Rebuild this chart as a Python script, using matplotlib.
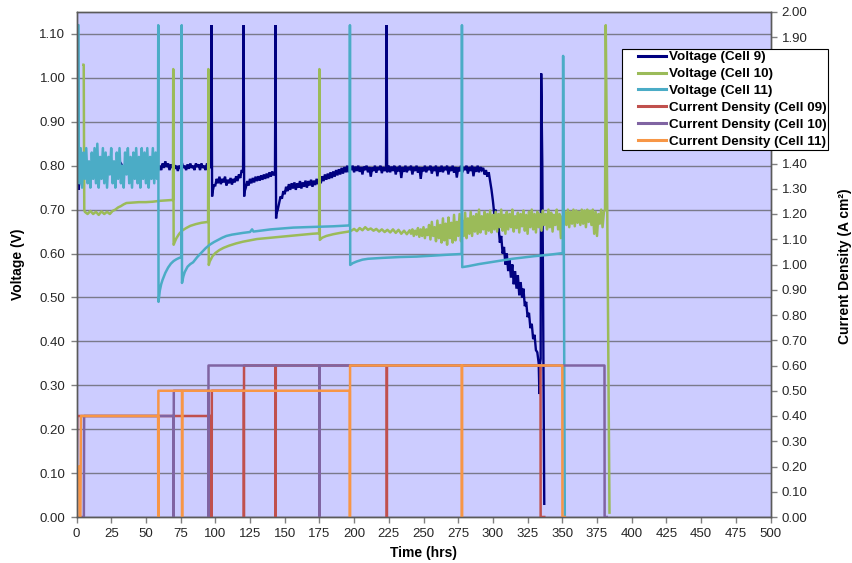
import matplotlib
matplotlib.use("Agg")
import matplotlib.pyplot as plt
from matplotlib.lines import Line2D
from matplotlib.legend_handler import HandlerLine2D

plt.rcParams["font.family"] = ["Liberation Sans", "DejaVu Sans"]


def stamps(t0, dt, n):
    """Sample times for an evenly logged stretch of readings."""
    return [t0 + dt * i for i in range(n)]


# ---------------- Cell 9 voltage (V) ----------------
c9_start_t = [0, 1.0, 1.3, 2, 3]
c9_start_v = [1.12, 1.12, 0.745, 0.76, 0.79]
c9_b = [0.80, 0.79, 0.805, 0.795, 0.80, 0.79, 0.805, 0.795, 0.80, 0.79,
        0.805, 0.795, 0.80, 0.79, 0.805, 0.795, 0.80, 0.79, 0.805, 0.795,
        0.80, 0.79, 0.805, 0.795, 0.80, 0.79, 0.805, 0.795]            # t = 4..58 (2 h)
c9_c = [0.79, 0.80, 0.79, 0.805, 0.795, 0.81, 0.797, 0.805, 0.79, 0.803,
        0.795, 0.805, 0.793, 0.80, 0.788, 0.80, 0.795, 0.806, 0.795, 0.80,
        0.79, 0.803, 0.793, 0.805, 0.795, 0.80, 0.79, 0.805, 0.797, 0.803,
        0.79, 0.805, 0.795, 0.80, 0.79, 0.805, 0.795, 0.80, 0.795]    # t = 59..97
c9_d_t = [97.3, 97.7, 98, 99]
c9_d_v = [1.12, 0.73, 0.74, 0.755]
c9_e = [0.755, 0.77, 0.76, 0.775, 0.758, 0.77, 0.762, 0.775, 0.755, 0.768,
        0.76, 0.772, 0.757, 0.77, 0.762, 0.776, 0.765, 0.78, 0.772, 0.79,
        0.785]                                                          # t = 100..120
c9_f_t = [120.4, 120.8]
c9_f_v = [1.12, 0.73]
c9_g = [0.74, 0.75, 0.765, 0.755, 0.77, 0.76, 0.772, 0.762, 0.775, 0.765,
        0.776, 0.766, 0.778, 0.768, 0.78, 0.77, 0.782, 0.772, 0.785, 0.775,
        0.787, 0.778, 0.785]                                            # t = 121..143
c9_h_t = [143.4, 143.8]
c9_h_v = [1.12, 0.68]
c9_i = [0.69, 0.70, 0.715, 0.73, 0.725, 0.742, 0.735, 0.752, 0.742, 0.758,
        0.745, 0.76, 0.748, 0.762, 0.745, 0.76, 0.75, 0.765, 0.748, 0.762,
        0.752, 0.766, 0.75, 0.765, 0.755, 0.768, 0.752, 0.766, 0.756, 0.77,
        0.758, 0.772, 0.76, 0.776, 0.765, 0.78, 0.768, 0.782, 0.77, 0.785,
        0.772, 0.787, 0.775, 0.79, 0.778, 0.792, 0.78, 0.795, 0.782, 0.797,
        0.785, 0.80, 0.785, 0.80]                                       # t = 144..197
c9_j = [0.79, 0.80, 0.785, 0.798, 0.788, 0.80, 0.786, 0.797, 0.78, 0.798,
        0.79, 0.80, 0.785, 0.797, 0.775, 0.796, 0.788, 0.80, 0.784, 0.797,
        0.79, 0.80, 0.783, 0.797, 0.788, 0.795]                         # t = 198..223
c9_k_t = [223.4, 223.8]
c9_k_v = [1.12, 0.785]
c9_l = [0.79, 0.80, 0.785, 0.798, 0.788, 0.80, 0.78, 0.797, 0.787, 0.80,
        0.772, 0.797, 0.786, 0.80, 0.785, 0.797, 0.79, 0.80, 0.78, 0.797,
        0.788, 0.80, 0.784, 0.797, 0.77, 0.796, 0.787, 0.80, 0.785, 0.797,
        0.79, 0.80, 0.782, 0.797, 0.788, 0.80, 0.776, 0.797, 0.786, 0.80,
        0.785, 0.797, 0.79, 0.80, 0.78, 0.797, 0.788, 0.80, 0.784, 0.797,
        0.773, 0.796, 0.787, 0.80, 0.785, 0.797, 0.79, 0.80, 0.782, 0.797,
        0.788, 0.80, 0.776, 0.797, 0.786, 0.80, 0.785, 0.797, 0.79, 0.795,
        0.78, 0.79, 0.775, 0.785, 0.765]                                # t = 224..298
c9_m = [0.745, 0.72, 0.69, 0.70, 0.655, 0.665, 0.625, 0.64, 0.60, 0.615,
        0.575, 0.60, 0.56, 0.585, 0.545, 0.575, 0.53, 0.56, 0.52, 0.55,
        0.505, 0.535, 0.50, 0.52, 0.48, 0.49, 0.455, 0.465, 0.43, 0.44,
        0.405, 0.415, 0.38, 0.375, 0.35]                                # t = 299..333
c9_end_t = [333.5, 334, 334.4, 334.8, 335.3, 335.6, 337]
c9_end_v = [0.28, 0.35, 0.36, 1.01, 0.87, 0.80, 0.03]

v9_t = (c9_start_t + stamps(4, 2, len(c9_b)) + stamps(59, 1, len(c9_c)) + c9_d_t
        + stamps(100, 1, len(c9_e)) + c9_f_t + stamps(121, 1, len(c9_g)) + c9_h_t
        + stamps(144, 1, len(c9_i)) + stamps(198, 1, len(c9_j)) + c9_k_t
        + stamps(224, 1, len(c9_l)) + stamps(299, 1, len(c9_m)) + c9_end_t)
v9_v = (c9_start_v + c9_b + c9_c + c9_d_v + c9_e + c9_f_v + c9_g + c9_h_v
        + c9_i + c9_j + c9_k_v + c9_l + c9_m + c9_end_v)

# ---------------- Cell 10 voltage (V) ----------------
c10_a_t = [5.0, 5.2, 5.6]
c10_a_v = [1.03, 1.03, 0.70]
c10_b = [0.695, 0.69, 0.697, 0.69, 0.695, 0.688, 0.696, 0.69, 0.695, 0.69, 0.697]  # t = 6..26 (2 h)
c10_c_t = [28, 30, 32, 34, 36, 40, 45, 50, 55, 60,
           65, 69.5, 69.7, 70.0, 71, 72, 74, 76, 79, 82,
           86, 90, 94.8, 95.0, 95.3, 96, 98, 100, 103, 106,
           110, 115, 120, 125, 130, 140, 150, 160, 170, 174.8,
           175.0, 175.3, 177, 180, 185, 190, 196]
c10_c_v = [0.70, 0.705, 0.708, 0.712, 0.715, 0.716, 0.717, 0.717, 0.718, 0.72,
           0.721, 0.722, 1.02, 0.62, 0.628, 0.635, 0.645, 0.652, 0.658, 0.663,
           0.667, 0.67, 0.672, 1.02, 0.574, 0.582, 0.594, 0.601, 0.608, 0.613,
           0.618, 0.623, 0.627, 0.63, 0.633, 0.636, 0.639, 0.642, 0.645, 0.646,
           1.02, 0.631, 0.636, 0.64, 0.644, 0.647, 0.65]
c10_d = [0.652, 0.656, 0.651, 0.658, 0.653, 0.66, 0.654, 0.657, 0.652, 0.656,
         0.65, 0.655, 0.649, 0.654, 0.648, 0.655, 0.647, 0.654, 0.645, 0.652,
         0.644, 0.653]                                                  # t = 198..240 (2 h)
c10_e = [0.645, 0.655, 0.64, 0.652, 0.643, 0.658, 0.638, 0.655, 0.64, 0.66,
         0.635, 0.655, 0.642, 0.665, 0.632, 0.672, 0.64, 0.66, 0.628, 0.675,
         0.635, 0.665, 0.625, 0.68, 0.63, 0.668, 0.62, 0.682, 0.635, 0.67,
         0.625, 0.688, 0.63, 0.672, 0.64, 0.69, 0.628, 0.675, 0.64, 0.693,
         0.635, 0.68, 0.645, 0.695, 0.64, 0.685, 0.65, 0.69, 0.645, 0.70,
         0.648, 0.685, 0.655, 0.695, 0.645, 0.69, 0.652, 0.698, 0.648, 0.688]  # t = 241..300
c10_f = [0.655, 0.695, 0.65, 0.69, 0.66, 0.70, 0.652, 0.688, 0.645, 0.695,
         0.655, 0.69, 0.66, 0.70, 0.65, 0.685, 0.658, 0.693, 0.648, 0.69,
         0.662, 0.698, 0.652, 0.688, 0.645, 0.695, 0.66, 0.70, 0.655, 0.69,
         0.648, 0.695, 0.66, 0.69, 0.652, 0.698, 0.665, 0.69, 0.655, 0.70,
         0.66, 0.693, 0.65, 0.688, 0.665, 0.70, 0.655, 0.69, 0.635, 0.685,
         0.66, 0.695, 0.665, 0.70, 0.66, 0.695, 0.668, 0.70, 0.662, 0.698,
         0.67, 0.695, 0.665, 0.70, 0.668, 0.698, 0.66, 0.70, 0.672, 0.697,
         0.665, 0.70, 0.645, 0.695, 0.64, 0.69, 0.668, 0.70, 0.66, 0.695]  # t = 301..380
c10_end_t = [380.8, 381.3, 381.8, 384]
c10_end_v = [0.70, 1.12, 0.95, 0.01]

v10_t = (c10_a_t + stamps(6, 2, len(c10_b)) + c10_c_t + stamps(198, 2, len(c10_d))
         + stamps(241, 1, len(c10_e)) + stamps(301, 1, len(c10_f)) + c10_end_t)
v10_v = c10_a_v + c10_b + c10_c_v + c10_d + c10_e + c10_f + c10_end_v

# ---------------- Cell 11 voltage (V) ----------------
c11_a_t = [0, 0.2, 1.4, 1.7]
c11_a_v = [0.0, 1.12, 1.12, 0.80]
c11_b = [0.76, 0.84, 0.75, 0.83, 0.77, 0.84, 0.76, 0.81, 0.75, 0.83,
         0.77, 0.84, 0.76, 0.85, 0.75, 0.82, 0.77, 0.84, 0.76, 0.83,
         0.75, 0.82, 0.78, 0.84, 0.76, 0.81, 0.75, 0.83, 0.77, 0.84,
         0.76, 0.80, 0.75, 0.83, 0.78, 0.84, 0.76, 0.82, 0.75, 0.83,
         0.77, 0.84, 0.76, 0.82, 0.75, 0.84, 0.77, 0.83, 0.76, 0.84,
         0.75, 0.82, 0.77, 0.84, 0.76, 0.83, 0.77]                     # t = 2..58
c11_c_t = [58.7, 58.9, 59.1, 60, 61, 62, 64, 66, 68, 70,
           72, 74, 75.6, 75.8, 76.0, 77, 78, 80, 82, 84,
           87, 90, 93, 96, 99, 102, 105, 108, 112, 116,
           120, 125, 126.5, 127.5, 130, 135, 140, 148, 156, 165,
           175, 185, 196.8, 197.0, 197.2, 199, 202, 206, 210, 220,
           233, 245, 256, 266, 277.5, 277.7, 277.9, 282, 290, 300,
           314, 330, 340, 350.3, 350.6, 351.8]
c11_c_v = [0.79, 1.12, 0.49, 0.515, 0.53, 0.54, 0.556, 0.568, 0.577, 0.583,
           0.587, 0.59, 0.592, 1.12, 0.533, 0.548, 0.558, 0.57, 0.576, 0.58,
           0.592, 0.602, 0.612, 0.62, 0.626, 0.631, 0.636, 0.64, 0.643, 0.645,
           0.647, 0.649, 0.655, 0.65, 0.651, 0.653, 0.655, 0.657, 0.659, 0.66,
           0.661, 0.662, 0.664, 1.12, 0.574, 0.578, 0.582, 0.586, 0.588, 0.59,
           0.592, 0.593, 0.595, 0.597, 0.599, 1.12, 0.569, 0.571, 0.576, 0.581,
           0.588, 0.594, 0.597, 0.601, 1.05, 0.0]

v11_t = c11_a_t + stamps(2, 1, len(c11_b)) + c11_c_t
v11_v = c11_a_v + c11_b + c11_c_v

# ---------------- Current density (A cm^-2) ----------------
j09_t = [0, 0.5, 97.3, 97.4, 97.5, 120.5, 120.6, 120.7, 143.4, 143.5, 143.6,
         223.5, 223.6, 223.7, 334.3, 334.4, 337]
j09_v = [0, 0.4, 0.4, 0, 0.5, 0.5, 0, 0.6, 0.6, 0, 0.6,
         0.6, 0, 0.6, 0.6, 0, 0]
j10_t = [0, 5.3, 5.5, 69.9, 70.0, 70.1, 94.9, 95.0, 95.1, 174.9, 175.0, 175.1,
         380.4, 380.5, 382]
j10_v = [0, 0, 0.4, 0.4, 0, 0.5, 0.5, 0, 0.6, 0.6, 0, 0.6,
         0.6, 0, 0]
j11_t = [0, 0.3, 2.0, 2.2, 2.8, 3.2, 58.8, 58.9, 59.0, 76.0, 76.1, 76.2,
         196.9, 197.0, 197.1, 277.6, 277.7, 277.8, 350.0, 350.1, 351.8]
j11_v = [0, 0.2, 0.2, 0, 0, 0.4, 0.4, 0, 0.5, 0.5, 0, 0.5,
         0.5, 0, 0.6, 0.6, 0, 0.6, 0.6, 0, 0]

labels = ["Voltage (Cell 9)", "Voltage (Cell 10)", "Voltage (Cell 11)",
          "Current Density (Cell 09)", "Current Density (Cell 10)",
          "Current Density (Cell 11)"]
colors = ["#000080", "#9BBB59", "#4BACC6", "#C0504D", "#8064A2", "#F79646"]

x_ticks = list(range(0, 501, 25))
v_ticks = [i / 10 for i in range(0, 12)]
j_ticks = [i / 10 for i in range(0, 21)]

# ---------------- figure ----------------
W, H = 852, 563
fig = plt.figure(figsize=(W / 100, H / 100), dpi=100)
ax = fig.add_axes([76.5 / W, 1 - 517 / H, 694 / W, 505 / H])
ax.set_facecolor("#CCCCFF")
ax.set_xlim(0, 500)
ax.set_ylim(0, 1.15)
ax.set_xticks(x_ticks)
ax.set_yticks(v_ticks)
ax.set_yticklabels([f"{v:.2f}" for v in v_ticks])
ax.yaxis.grid(True, color="#7a7a8a", lw=1.0)
ax.set_axisbelow(True)

lw = 1.8
ax.plot(v9_t, v9_v, color=colors[0], lw=1.7, solid_joinstyle="miter")
ax.plot(v10_t, v10_v, color=colors[1], lw=lw)
ax.plot(v11_t, v11_v, color=colors[2], lw=lw)

ax2 = ax.twinx()
ax2.set_ylim(0, 2.0)
ax2.set_yticks(j_ticks)
ax2.set_yticklabels([f"{v:.2f}" for v in j_ticks])
ax2.plot(j09_t, j09_v, color=colors[3], lw=lw)
ax2.plot(j10_t, j10_v, color=colors[4], lw=lw)
ax2.plot(j11_t, j11_v, color=colors[5], lw=lw)

for a in (ax, ax2):
    for s in a.spines.values():
        s.set_color("#5a5a5a")
        s.set_linewidth(1.0)
    a.tick_params(direction="out", length=4, width=1, color="#808080",
                  labelsize=9.5, labelcolor="#262626", pad=4)

lab = dict(fontsize=10, fontweight="bold", color="#000000")
fig.text(18 / W, 1 - 264 / H, "Voltage (V)", rotation=90, ha="center", va="center", **lab)
fig.text(845 / W, 1 - 266 / H, "Current Density (A cm²)", rotation=90,
         ha="center", va="center", **lab)
fig.text(423 / W, 1 - 553 / H, "Time (hrs)", ha="center", va="center", **lab)

# legend: short line samples inset from the frame's left edge
handles = [Line2D([0], [0], color=c, lw=2.2) for c in colors]
inset = HandlerLine2D(xpad=1.1)
leg = fig.legend(handles, labels, loc="upper left",
                 bbox_to_anchor=(621.5 / W, 1 - 49 / H),
                 bbox_transform=fig.transFigure, frameon=True, fancybox=False,
                 prop=dict(size=9.7, weight="bold"), handlelength=3.15,
                 handletextpad=0.2, labelspacing=0.33, borderpad=0.15,
                 borderaxespad=0, handler_map={Line2D: inset})
leg.get_frame().set_edgecolor("#000000")
leg.get_frame().set_linewidth(0.8)
leg.get_frame().set_alpha(1)

fig.savefig("out.png", dpi=100, facecolor="white")
